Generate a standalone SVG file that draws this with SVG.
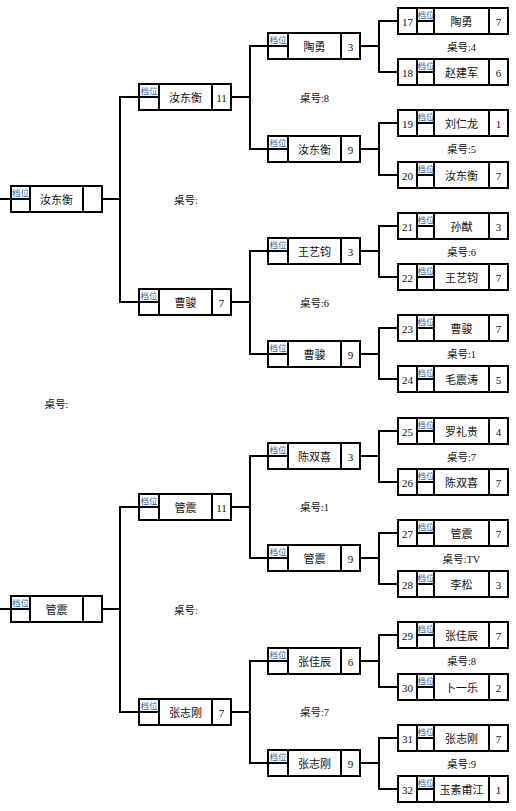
<svg xmlns="http://www.w3.org/2000/svg" width="516" height="811" viewBox="0 0 516 811">
<style>
text{font-family:"Liberation Serif","Noto Sans CJK SC",serif;fill:#111;}
.b{fill:#fff;stroke:#000;stroke-width:2;}
.c{fill:none;stroke:#000;stroke-width:2;}
.n{font-size:11px;text-anchor:middle;}
.s{font-size:11px;text-anchor:middle;}
.d{font-size:8.5px;fill:#2f5fa8;}
.t{font-size:10.5px;text-anchor:middle;}
</style>
<rect width="516" height="811" fill="#fff"/>
<g id="connectors" class="c">
<path d="M0,199H11M0,609H11"/>
<path d="M102,199H120M139,97H120V302H139"/>
<path d="M102,609H120M139,507H120V712H139"/>
<path d="M231,97H250M268,46H250V149H268"/>
<path d="M231,302H250M268,251H250V354H268"/>
<path d="M231,507H250M268,456H250V558H268"/>
<path d="M231,712H250M268,661H250V763H268"/>
<path d="M360,46H379M398,21H379V72H398"/>
<path d="M360,149H379M398,123H379V175H398"/>
<path d="M360,251H379M398,226H379V277H398"/>
<path d="M360,354H379M398,328H379V379H398"/>
<path d="M360,456H379M398,431H379V482H398"/>
<path d="M360,558H379M398,533H379V584H398"/>
<path d="M360,661H379M398,635H379V687H398"/>
<path d="M360,763H379M398,738H379V789H398"/>
</g>
<g id="labels">
<text class="t" x="56.5" y="408">桌号:</text>
<text class="t" x="186" y="203.5">桌号:</text>
<text class="t" x="186" y="613.5">桌号:</text>
<text class="t" x="314.5" y="101.5">桌号:8</text>
<text class="t" x="314.5" y="306.5">桌号:6</text>
<text class="t" x="314.5" y="511">桌号:1</text>
<text class="t" x="314.5" y="716">桌号:7</text>
<text class="t" x="461.5" y="50.5">桌号:4</text>
<text class="t" x="461.5" y="153">桌号:5</text>
<text class="t" x="461.5" y="255.5">桌号:6</text>
<text class="t" x="461.5" y="357.5">桌号:1</text>
<text class="t" x="461.5" y="460.5">桌号:7</text>
<text class="t" x="461.5" y="562.5">桌号:TV</text>
<text class="t" x="461.5" y="665">桌号:8</text>
<text class="t" x="461.5" y="767.5">桌号:9</text>
</g>
<defs>
<g id="root"><rect class="b" width="91" height="26"/><path class="c" d="M19,0V26M72,0V26M0,13H19"/><text class="d" x="1" y="10">档位</text></g>
<g id="mid"><rect class="b" width="92" height="26"/><path class="c" d="M20,0V26M73,0V26M0,13H20"/><text class="d" x="1.5" y="10">档位</text></g>
<g id="leaf"><rect class="b" width="110" height="26"/><path class="c" d="M19,0V26M36,0V26M91,0V26M19,13H36"/><text class="d" x="19.5" y="10">档位</text></g>
</defs>
<g id="r1" transform="translate(11,186)"><use href="#root"/><text class="n" x="45.5" y="18">汝东衡</text></g>
<g id="r2" transform="translate(11,596)"><use href="#root"/><text class="n" x="45.5" y="18">管震</text></g>
<g id="a1" transform="translate(139,84)"><use href="#mid"/><text class="n" x="46.5" y="18">汝东衡</text><text class="s" x="82.5" y="18">11</text></g>
<g id="a2" transform="translate(139,289)"><use href="#mid"/><text class="n" x="46.5" y="18">曹骏</text><text class="s" x="82.5" y="18">7</text></g>
<g id="a3" transform="translate(139,494)"><use href="#mid"/><text class="n" x="46.5" y="18">管震</text><text class="s" x="82.5" y="18">11</text></g>
<g id="a4" transform="translate(139,699)"><use href="#mid"/><text class="n" x="46.5" y="18">张志刚</text><text class="s" x="82.5" y="18">7</text></g>
<g id="b1" transform="translate(268,33)"><use href="#mid"/><text class="n" x="46.5" y="18">陶勇</text><text class="s" x="82.5" y="18">3</text></g>
<g id="b2" transform="translate(268,136)"><use href="#mid"/><text class="n" x="46.5" y="18">汝东衡</text><text class="s" x="82.5" y="18">9</text></g>
<g id="b3" transform="translate(268,238)"><use href="#mid"/><text class="n" x="46.5" y="18">王艺钧</text><text class="s" x="82.5" y="18">3</text></g>
<g id="b4" transform="translate(268,341)"><use href="#mid"/><text class="n" x="46.5" y="18">曹骏</text><text class="s" x="82.5" y="18">9</text></g>
<g id="b5" transform="translate(268,443)"><use href="#mid"/><text class="n" x="46.5" y="18">陈双喜</text><text class="s" x="82.5" y="18">3</text></g>
<g id="b6" transform="translate(268,545)"><use href="#mid"/><text class="n" x="46.5" y="18">管震</text><text class="s" x="82.5" y="18">9</text></g>
<g id="b7" transform="translate(268,648)"><use href="#mid"/><text class="n" x="46.5" y="18">张佳辰</text><text class="s" x="82.5" y="18">6</text></g>
<g id="b8" transform="translate(268,750)"><use href="#mid"/><text class="n" x="46.5" y="18">张志刚</text><text class="s" x="82.5" y="18">9</text></g>
<g id="p17" transform="translate(398,8)"><use href="#leaf"/><text class="s" x="9.5" y="18">17</text><text class="n" x="63.5" y="18">陶勇</text><text class="s" x="100.5" y="18">7</text></g>
<g id="p18" transform="translate(398,59)"><use href="#leaf"/><text class="s" x="9.5" y="18">18</text><text class="n" x="63.5" y="18">赵建军</text><text class="s" x="100.5" y="18">6</text></g>
<g id="p19" transform="translate(398,110)"><use href="#leaf"/><text class="s" x="9.5" y="18">19</text><text class="n" x="63.5" y="18">刘仁龙</text><text class="s" x="100.5" y="18">1</text></g>
<g id="p20" transform="translate(398,162)"><use href="#leaf"/><text class="s" x="9.5" y="18">20</text><text class="n" x="63.5" y="18">汝东衡</text><text class="s" x="100.5" y="18">7</text></g>
<g id="p21" transform="translate(398,213)"><use href="#leaf"/><text class="s" x="9.5" y="18">21</text><text class="n" x="63.5" y="18">孙猷</text><text class="s" x="100.5" y="18">3</text></g>
<g id="p22" transform="translate(398,264)"><use href="#leaf"/><text class="s" x="9.5" y="18">22</text><text class="n" x="63.5" y="18">王艺钧</text><text class="s" x="100.5" y="18">7</text></g>
<g id="p23" transform="translate(398,315)"><use href="#leaf"/><text class="s" x="9.5" y="18">23</text><text class="n" x="63.5" y="18">曹骏</text><text class="s" x="100.5" y="18">7</text></g>
<g id="p24" transform="translate(398,366)"><use href="#leaf"/><text class="s" x="9.5" y="18">24</text><text class="n" x="63.5" y="18">毛震涛</text><text class="s" x="100.5" y="18">5</text></g>
<g id="p25" transform="translate(398,418)"><use href="#leaf"/><text class="s" x="9.5" y="18">25</text><text class="n" x="63.5" y="18">罗礼贵</text><text class="s" x="100.5" y="18">4</text></g>
<g id="p26" transform="translate(398,469)"><use href="#leaf"/><text class="s" x="9.5" y="18">26</text><text class="n" x="63.5" y="18">陈双喜</text><text class="s" x="100.5" y="18">7</text></g>
<g id="p27" transform="translate(398,520)"><use href="#leaf"/><text class="s" x="9.5" y="18">27</text><text class="n" x="63.5" y="18">管震</text><text class="s" x="100.5" y="18">7</text></g>
<g id="p28" transform="translate(398,571)"><use href="#leaf"/><text class="s" x="9.5" y="18">28</text><text class="n" x="63.5" y="18">李松</text><text class="s" x="100.5" y="18">3</text></g>
<g id="p29" transform="translate(398,622)"><use href="#leaf"/><text class="s" x="9.5" y="18">29</text><text class="n" x="63.5" y="18">张佳辰</text><text class="s" x="100.5" y="18">7</text></g>
<g id="p30" transform="translate(398,674)"><use href="#leaf"/><text class="s" x="9.5" y="18">30</text><text class="n" x="63.5" y="18">卜一乐</text><text class="s" x="100.5" y="18">2</text></g>
<g id="p31" transform="translate(398,725)"><use href="#leaf"/><text class="s" x="9.5" y="18">31</text><text class="n" x="63.5" y="18">张志刚</text><text class="s" x="100.5" y="18">7</text></g>
<g id="p32" transform="translate(398,776)"><use href="#leaf"/><text class="s" x="9.5" y="18">32</text><text class="n" x="63.5" y="18">玉素甫江</text><text class="s" x="100.5" y="18">1</text></g>
</svg>
